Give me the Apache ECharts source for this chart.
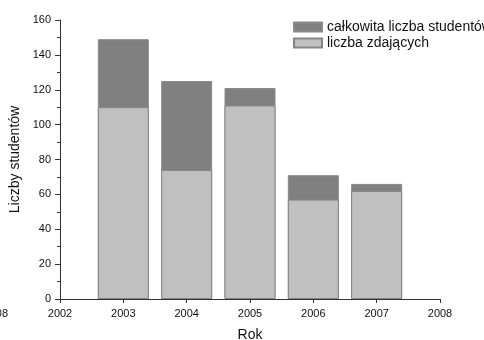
<!DOCTYPE html>
<html>
<head>
<meta charset="utf-8">
<script src="https://cdn.jsdelivr.net/npm/echarts@6/dist/echarts.min.js"></script>
<style>
  html, body { margin: 0; padding: 0; background: #fff; }
  #chart { width: 484px; height: 340px; }
</style>
</head>
<body>
<div id="chart"></div>
<script>
// Lata i liczby studentów
const years = [2003, 2004, 2005, 2006, 2007];
const totalStudents = [149, 125, 121, 71, 66];
const passedStudents = [110, 74, 111, 57, 62];
const seriesNames = ['całkowita liczba studentów', 'liczba zdających'];

const chart = echarts.init(document.getElementById('chart'));
const font = 'Liberation Sans, Arial, sans-serif';

chart.setOption({
  animation: false,
  textStyle: { fontFamily: font },
  grid: { left: 60, right: 44, top: 20, bottom: 41, containLabel: false, outerBoundsMode: 'none' },
  legend: {
    left: 288, top: 15, orient: 'vertical',
    itemWidth: 28, itemHeight: 9, itemGap: 2,
    icon: 'rect',
    textStyle: { fontFamily: font, fontSize: 14, color: '#111' },
    data: seriesNames
  },
  xAxis: {
    type: 'value', min: 2002, max: 2008, interval: 1,
    name: 'Rok', nameLocation: 'middle', nameGap: 29,
    nameTextStyle: { fontFamily: font, fontSize: 14, color: '#111' },
    axisLine: { show: true, lineStyle: { color: '#333', width: 1 } },
    axisTick: { show: true, inside: false, length: 4, lineStyle: { color: '#333' } },
    axisLabel: { fontFamily: font, fontSize: 11, color: '#111', margin: 9,
      formatter: v => String(v) },
    splitLine: { show: false }
  },
  yAxis: {
    type: 'value', min: 0, max: 160, interval: 20,
    name: 'Liczby studentów', nameLocation: 'middle', nameGap: 33,
    nameTextStyle: { fontFamily: font, fontSize: 14, color: '#111' },
    axisLine: { show: true, lineStyle: { color: '#333', width: 1 } },
    axisTick: { show: true, inside: false, length: 5, lineStyle: { color: '#333' } },
    minorTick: { show: true, splitNumber: 2, length: 3, lineStyle: { color: '#333' } },
    axisLabel: { fontFamily: font, fontSize: 11, color: '#111', margin: 9 },
    splitLine: { show: false }
  },
  graphic: [{
    type: 'text', right: 476, top: 308,
    style: { text: '2008', fontFamily: font, fontSize: 11, fill: '#111' }
  }],
  series: [
    {
      name: seriesNames[0], type: 'bar', barWidth: 51, barGap: '-100%',
      itemStyle: { color: '#808080', borderColor: '#8a8a8a', borderWidth: 1 },
      data: years.map((y, i) => [y, totalStudents[i]])
    },
    {
      name: seriesNames[1], type: 'bar', barWidth: 51, barGap: '-100%',
      itemStyle: { color: '#c0c0c0', borderColor: '#858585', borderWidth: 1 },
      data: years.map((y, i) => [y, passedStudents[i]])
    }
  ]
});
</script>
</body>
</html>
